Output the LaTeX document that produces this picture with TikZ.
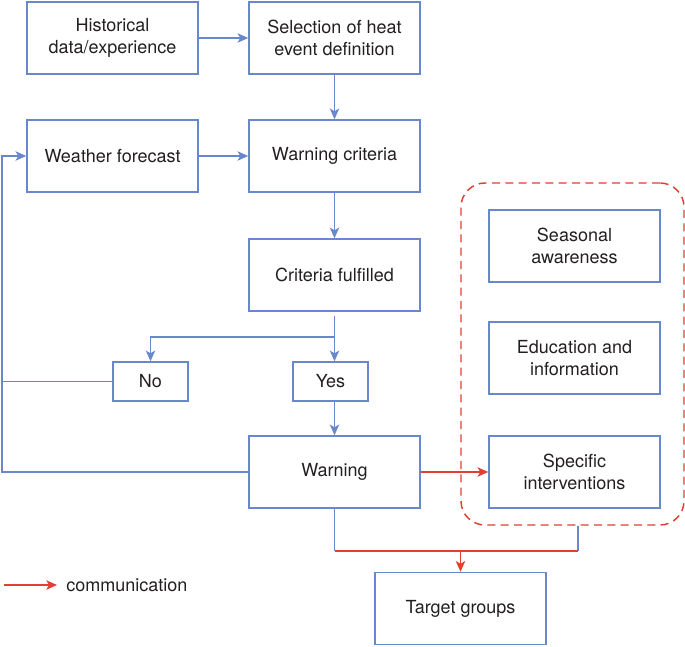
\documentclass[tikz,border=0pt]{standalone}
\usepackage{fontspec}
\setmainfont{TeX Gyre Heros}
\usetikzlibrary{arrows.meta,positioning,calc}
\definecolor{flowblue}{RGB}{104,135,204}
\definecolor{commred}{RGB}{226,62,50}
\definecolor{inktext}{RGB}{35,31,32}
\tikzset{
  box/.style={draw=flowblue, line width=1.1pt, minimum width=128.25pt, minimum height=54pt,
    inner sep=0pt, align=center, text=inktext, font=\fontsize{13.5}{16.5}\selectfont},
  smallbox/.style={box, minimum width=56.25pt, minimum height=29.25pt},
  group/.style={draw=commred, line width=1.1pt, dash pattern=on 6pt off 4pt, rounded corners=18pt,
    minimum width=167.25pt, minimum height=256.5pt, inner sep=0pt},
  link/.style={draw=flowblue, line width=1.1pt},
  flow/.style={link, -{Stealth[length=8pt,width=7pt,inset=2pt]}},
  commline/.style={draw=commred, line width=1.1pt},
  comm/.style={commline, -{Stealth[length=8pt,width=7pt,inset=2pt]}}
}

\begin{document}
\begin{tikzpicture}[x=0.75pt,y=-0.75pt]
  \useasboundingbox (0,0) rectangle (685,646);

  % Input boxes
  \node[box] (hist) at (112.5,38) {Historical\\data/experience};
  \node[box] (sel) at (334.5,38) {Selection of heat\\event definition};
  \node[box] (wf) at (112.5,156) {Weather forecast};
  \node[box] (crit) at (334.5,156) {Warning criteria};
  \node[box] (ful) at (334.5,275) {Criteria fulfilled};

  % Decision
  \node[smallbox] (no) at (150.5,381.5) {No};
  \node[smallbox] (yes) at (330.5,381.5) {Yes};
  \node[box] (warn) at (334.5,472) {Warning};

  % Interventions
  \node[group] (grp) at (572.5,354) {};
  \node[box] (seas) at (574.5,246) {Seasonal\\awareness};
  \node[box] (edu) at (574.5,358) {Education and\\information};
  \node[box] (spec) at (574.5,472) {Specific\\interventions};

  \node[box] (tg) at (460.5,608.5) {Target groups};

  % Main flow
  \draw[flow] (hist) -- (sel);
  \draw[flow] (sel) -- (crit);
  \draw[flow] (wf) -- (crit);
  \draw[flow] (crit) -- (ful);

  % Branch to No / Yes
  \coordinate (split) at (334.5,337);
  \draw[link, shorten <=3pt] (ful.south) -- (split);
  \draw[flow] (split) -| (no.north);
  \draw[flow] (split) -- (split |- yes.north);
  \draw[flow] (yes.south -| warn) -- (warn.north);

  % Feedback loop
  \coordinate (fb) at (2,472);
  \draw[flow] (warn.west) -- (fb) |- (wf.west);
  \draw[link] (no.west) -- (no.west -| fb);

  % Communication
  \draw[comm] (warn.east) -- (spec.west);
  \coordinate (jl) at (334.5,551);
  \coordinate (jr) at (578,551);
  \draw[link] (warn.south) -- (jl);
  \draw[link] (grp.south -| jr) -- (jr);
  \draw[commline] (jl) -- (jr);
  \draw[comm] (jl -| tg) -- (tg.north);

  % Legend
  \coordinate (la) at (4,585);
  \coordinate (lb) at (57,585);
  \draw[comm] (la) -- (lb);
  \node[right, inner sep=0pt, text=inktext, font=\fontsize{13.5}{16.5}\selectfont] (leg) at (66,585) {communication};
\end{tikzpicture}
\end{document}
